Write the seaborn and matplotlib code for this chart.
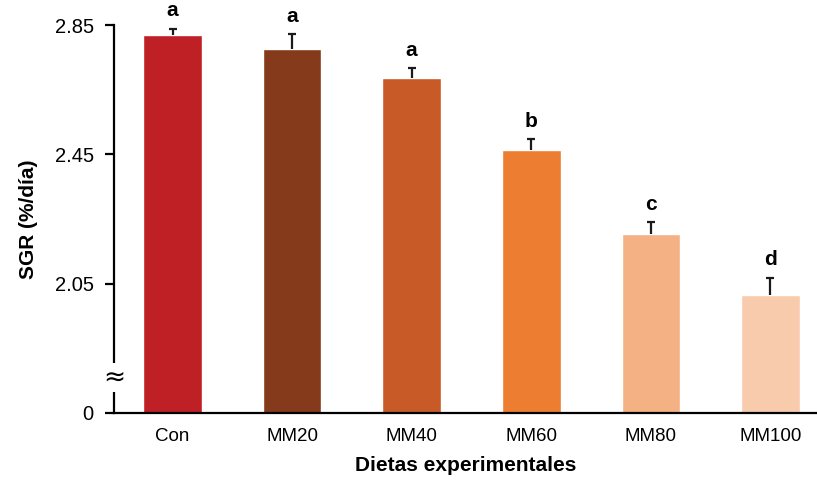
import numpy as np
import pandas as pd
import seaborn as sns
import matplotlib.pyplot as plt

# values
diets = ["Con", "MM20", "MM40", "MM60", "MM80", "MM100"]
sgr = [2.819, 2.776, 2.685, 2.465, 2.203, 2.014]
sgr_err = [0.020, 0.046, 0.031, 0.032, 0.037, 0.055]
letters = ["a", "a", "a", "b", "c", "d"]
bar_colors = ["#BE2026", "#843A1B", "#C85A28", "#ED7D31", "#F4B183", "#F8CBAD"]

ytick_vals = [1.65, 2.05, 2.45, 2.85]
ytick_labels = ["0", "2.05", "2.45", "2.85"]

df = pd.DataFrame({"diet": diets, "sgr": sgr})

sns.set_style("white")
plt.rcParams["font.family"] = ["Liberation Sans", "DejaVu Sans"]
plt.rcParams["text.color"] = "black"
plt.rcParams["axes.labelcolor"] = "black"
plt.rcParams["xtick.color"] = "black"
plt.rcParams["ytick.color"] = "black"

fig = plt.figure(figsize=(8.17, 4.83), dpi=100)
ax = fig.add_axes([0.1395, 0.145, 0.8605, 0.803])

sns.barplot(data=df, x="diet", y="sgr", hue="diet", palette=bar_colors,
            width=0.49, legend=False, saturation=1, ax=ax)

# upper half error bars only
eb = ax.errorbar(range(len(diets)), sgr, yerr=[np.zeros(len(sgr)), sgr_err],
                 fmt="none", ecolor="#1a1a1a", elinewidth=1.6, capsize=3,
                 capthick=1.6, zorder=3)
for cl in eb[1]:
    if np.allclose(cl.get_ydata(), sgr):
        cl.set_visible(False)

# significance letters
for i, (v, e, lt) in enumerate(zip(sgr, sgr_err, letters)):
    ax.annotate(lt, xy=(i, v + e), xytext=(0, 6), textcoords="offset points",
                ha="center", va="bottom", fontsize=15, fontweight="bold",
                annotation_clip=False)

ax.set_ylim(1.65, 2.85)
ax.set_xlim(-0.49, 5.39)
ax.set_yticks(ytick_vals)
ax.set_yticklabels(ytick_labels)

sns.despine(ax=ax)
for s in ["left", "bottom"]:
    ax.spines[s].set_linewidth(1.6)
    ax.spines[s].set_color("black")

ax.tick_params(axis="y", length=6.5, width=1.6, pad=8, labelsize=14.5,
               left=True)
ax.tick_params(axis="x", length=0, pad=11, labelsize=13.5)

# axis break marker
ax.text(0, 1.76, "≈", transform=ax.get_yaxis_transform(), ha="center",
        va="center", fontsize=19, family="DejaVu Sans",
        bbox=dict(facecolor="white", edgecolor="none", pad=1.0), zorder=5,
        clip_on=False)

ax.set_xlabel("Dietas experimentales", fontsize=15, fontweight="bold",
              labelpad=8)
ax.set_ylabel("SGR (%/día)", fontsize=15, fontweight="bold", labelpad=12)

fig.savefig("out.png", dpi=100)
